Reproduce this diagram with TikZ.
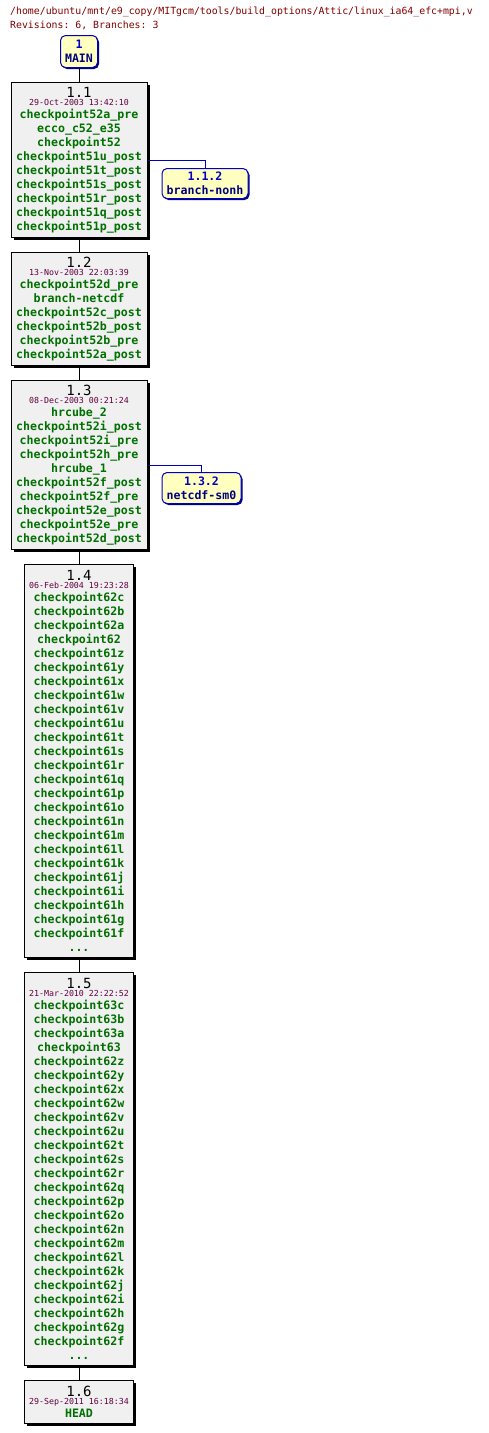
\documentclass[tikz,border=0pt]{standalone}
\usepackage{fontspec}
\setmonofont{DejaVu Sans Mono}
\usetikzlibrary{positioning, shadows}
\definecolor{cvstitle}{HTML}{800000}
\definecolor{cvsdate}{HTML}{600040}
\definecolor{cvstag}{HTML}{007000}
\definecolor{cvsbranch}{HTML}{0000C0}
\definecolor{cvsbrtag}{HTML}{000080}
\definecolor{cvsrevbg}{HTML}{F0F0F0}
\definecolor{cvsbrbg}{HTML}{FFFFC0}
\newcommand{\revno}[1]{{\fontsize{14}{14}\selectfont\mdseries\color{black}#1}}
\newcommand{\revdate}[1]{{\fontsize{8.3}{14}\selectfont\mdseries\color{cvsdate}#1}}

\begin{document}
\begin{tikzpicture}[
      x=1pt, y=-1pt,
      every node/.style={font=\ttfamily\bfseries\fontsize{11.6}{14}\selectfont},
      titletext/.style={anchor=west, inner sep=0pt, text=cvstitle, font=\ttfamily\fontsize{9.85}{12}\selectfont},
      revbox/.style 2 args={draw=black, fill=cvsrevbg, line width=1pt, inner sep=0pt, align=center, text=cvstag,
        minimum width=#1, minimum height=#2,
        drop shadow={shadow xshift=2.5pt, shadow yshift=-2.5pt, fill=black, opacity=1}},
      brbox/.style 2 args={draw=cvsbranch, fill=cvsbrbg, line width=1pt, rounded corners=5pt, inner sep=0pt, align=center,
        text=cvsbrtag, minimum width=#1, minimum height=#2,
        drop shadow={shadow xshift=1.5pt, shadow yshift=-1.5pt, fill=cvsbrtag, opacity=1}},
      revline/.style={draw=black, line width=1pt},
      brline/.style={draw=cvsbranch, line width=1pt},
    ]
    \useasboundingbox (0,0) rectangle (488,1433);

    \node[titletext] (title) at (10,12)
      {/home/ubuntu/mnt/e9\_copy/MITgcm/tools/build\_options/Attic/linux\_ia64\_efc+mpi,v};
    \node[titletext] (stats) at (10,25) {Revisions: 6, Branches: 3};

    % trunk
    \node[brbox={37pt}{32pt}, anchor=north] (main) at (79,35)
      {\textcolor{cvsbranch}{1}\\MAIN};
    \node[revbox={136pt}{155pt}, below=14pt of main] (r11)
      {\revno{1.1}\\[-6pt]\revdate{29-Oct-2003 13:42:10}\\[-1pt]
       checkpoint52a\_pre\\ecco\_c52\_e35\\checkpoint52\\checkpoint51u\_post\\
       checkpoint51t\_post\\checkpoint51s\_post\\checkpoint51r\_post\\
       checkpoint51q\_post\\checkpoint51p\_post};
    \node[revbox={136pt}{113pt}, below=14pt of r11] (r12)
      {\revno{1.2}\\[-6pt]\revdate{13-Nov-2003 22:03:39}\\[-1pt]
       checkpoint52d\_pre\\branch-netcdf\\checkpoint52c\_post\\
       checkpoint52b\_post\\checkpoint52b\_pre\\checkpoint52a\_post};
    \node[revbox={136pt}{169pt}, below=14pt of r12] (r13)
      {\revno{1.3}\\[-6pt]\revdate{08-Dec-2003 00:21:24}\\[-1pt]
       hrcube\_2\\checkpoint52i\_post\\checkpoint52i\_pre\\checkpoint52h\_pre\\
       hrcube\_1\\checkpoint52f\_post\\checkpoint52f\_pre\\checkpoint52e\_post\\
       checkpoint52e\_pre\\checkpoint52d\_post};
    \node[revbox={109pt}{393pt}, below=14pt of r13] (r14)
      {\revno{1.4}\\[-6pt]\revdate{06-Feb-2004 19:23:28}\\[-1pt]
       checkpoint62c\\checkpoint62b\\checkpoint62a\\checkpoint62\\
       checkpoint61z\\checkpoint61y\\checkpoint61x\\checkpoint61w\\
       checkpoint61v\\checkpoint61u\\checkpoint61t\\checkpoint61s\\
       checkpoint61r\\checkpoint61q\\checkpoint61p\\checkpoint61o\\
       checkpoint61n\\checkpoint61m\\checkpoint61l\\checkpoint61k\\
       checkpoint61j\\checkpoint61i\\checkpoint61h\\checkpoint61g\\
       checkpoint61f\\...};
    \node[revbox={109pt}{393pt}, below=14pt of r14] (r15)
      {\revno{1.5}\\[-6pt]\revdate{21-Mar-2010 22:22:52}\\[-1pt]
       checkpoint63c\\checkpoint63b\\checkpoint63a\\checkpoint63\\
       checkpoint62z\\checkpoint62y\\checkpoint62x\\checkpoint62w\\
       checkpoint62v\\checkpoint62u\\checkpoint62t\\checkpoint62s\\
       checkpoint62r\\checkpoint62q\\checkpoint62p\\checkpoint62o\\
       checkpoint62n\\checkpoint62m\\checkpoint62l\\checkpoint62k\\
       checkpoint62j\\checkpoint62i\\checkpoint62h\\checkpoint62g\\
       checkpoint62f\\...};
    \node[revbox={109pt}{43pt}, below=14pt of r15] (r16)
      {\revno{1.6}\\[-6pt]\revdate{29-Sep-2011 16:18:34}\\[-1pt]HEAD};

    % branches
    \node[brbox={86pt}{30pt}, anchor=north] (b112) at (205,168)
      {\textcolor{cvsbranch}{1.1.2}\\branch-nonh};
    \node[brbox={79pt}{31pt}, anchor=north] (b132) at (201.5,472)
      {\textcolor{cvsbranch}{1.3.2}\\netcdf-sm0};

    \draw[revline] (main) -- (r11);
    \draw[revline] (r11) -- (r12);
    \draw[revline] (r12) -- (r13);
    \draw[revline] (r13) -- (r14);
    \draw[revline] (r14) -- (r15);
    \draw[revline] (r15) -- (r16);
    \draw[brline] (r11.east) -| (b112.north);
    \draw[brline] (r13.east) -| (b132.north);
  \end{tikzpicture}
\end{document}
